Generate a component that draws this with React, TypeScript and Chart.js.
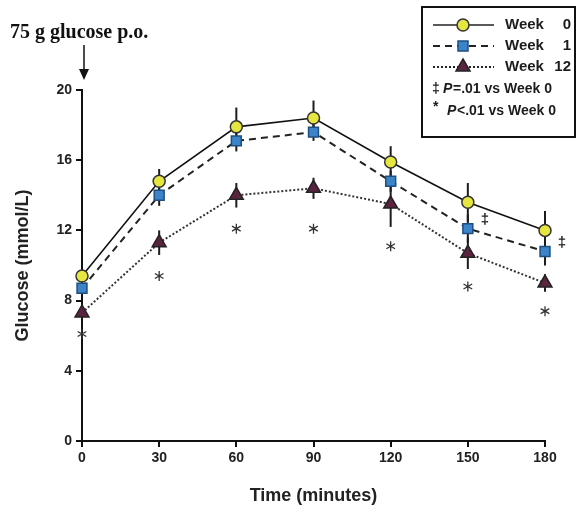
import { useEffect, useRef } from 'react';
import { Chart, registerables } from 'chart.js';

Chart.register(...registerables);

// ---- data ----
const timePoints = [0, 30, 60, 90, 120, 150, 180];
const week0 = [9.4, 14.8, 17.9, 18.4, 15.9, 13.6, 12.0];
const week0Err = [0.3, 0.7, 1.1, 1.0, 0.9, 1.1, 1.1];
const week1 = [8.7, 14.0, 17.1, 17.6, 14.8, 12.1, 10.8];
const week1Err = [0.3, 0.6, 0.6, 0.5, 0.6, 0.8, 0.8];
const week12 = [7.3, 11.3, 14.0, 14.4, 13.5, 10.7, 9.0];
const week12Err = [0.3, 0.7, 0.7, 0.6, 1.3, 0.9, 0.5];
// significance markers (y position in mmol/L)
const starY = [6.1, 9.4, 12.1, 12.1, 11.1, 8.8, 7.4];
const daggerY: (number | null)[] = [null, null, null, null, null, 12.6, 11.3];
const xTicks = [0, 30, 60, 90, 120, 150, 180];
const yTicks = [0, 4, 8, 12, 16, 20];
const seriesNames = ['Week  0', 'Week  1', 'Week 12'];

const SANS = "'Liberation Sans', Arial, sans-serif";
const SERIF = "'Liberation Serif', 'Times New Roman', serif";
const INK = '#1c1c1c';

const YELLOW = '#e6e640';
const BLUE = '#3b84c9';
const MAROON = '#5a2440';

function drawMarker(ctx: CanvasRenderingContext2D, kind: string, x: number, y: number) {
  ctx.save();
  ctx.lineWidth = 1.5;
  ctx.setLineDash([]);
  ctx.beginPath();
  if (kind === 'circle') {
    ctx.fillStyle = YELLOW;
    ctx.strokeStyle = '#333';
    ctx.arc(x, y, 6, 0, Math.PI * 2);
  } else if (kind === 'rect') {
    ctx.fillStyle = BLUE;
    ctx.strokeStyle = '#1f4f80';
    ctx.rect(x - 5, y - 5, 10, 10);
  } else {
    ctx.fillStyle = MAROON;
    ctx.strokeStyle = '#222';
    ctx.moveTo(x, y - 8);
    ctx.lineTo(x + 7, y + 4);
    ctx.lineTo(x - 7, y + 4);
    ctx.closePath();
  }
  ctx.fill();
  ctx.stroke();
  ctx.restore();
}

function drawStar(ctx: CanvasRenderingContext2D, x: number, y: number, r: number) {
  ctx.save();
  ctx.strokeStyle = '#333';
  ctx.lineWidth = 1.3;
  ctx.beginPath();
  for (let i = 0; i < 3; i++) {
    const a = Math.PI / 2 + (i * Math.PI) / 3;
    ctx.moveTo(x + Math.cos(a) * r, y + Math.sin(a) * r);
    ctx.lineTo(x - Math.cos(a) * r, y - Math.sin(a) * r);
  }
  ctx.stroke();
  ctx.restore();
}

const errorBarPlugin = {
  id: 'errorBars',
  beforeDatasetsDraw(chart: any) {
    const ctx = chart.ctx as CanvasRenderingContext2D;
    const xs = chart.scales.x;
    const ys = chart.scales.y;
    const sets = [
      [week0, week0Err],
      [week1, week1Err],
      [week12, week12Err],
    ];
    ctx.save();
    ctx.strokeStyle = INK;
    ctx.lineWidth = 2;
    sets.forEach(([vals, errs]) => {
      vals.forEach((v, j) => {
        const x = xs.getPixelForValue(timePoints[j]);
        ctx.beginPath();
        ctx.moveTo(x, ys.getPixelForValue(v + errs[j]));
        ctx.lineTo(x, ys.getPixelForValue(v - errs[j]));
        ctx.stroke();
      });
    });
    ctx.restore();
  },
};

const annotationPlugin = {
  id: 'annotations',
  afterDraw(chart: any) {
    const ctx = chart.ctx as CanvasRenderingContext2D;
    const xs = chart.scales.x;
    const ys = chart.scales.y;

    // significance stars
    starY.forEach((v, j) => {
      drawStar(ctx, xs.getPixelForValue(timePoints[j]), ys.getPixelForValue(v), 5);
    });
    // double daggers
    ctx.save();
    ctx.fillStyle = INK;
    ctx.font = `bold 15px ${SANS}`;
    ctx.textAlign = 'center';
    ctx.textBaseline = 'middle';
    daggerY.forEach((v, j) => {
      if (v === null) return;
      ctx.fillText('\u2021', xs.getPixelForValue(timePoints[j]) + 17, ys.getPixelForValue(v));
    });
    ctx.restore();

    // top-left note with arrow
    ctx.save();
    ctx.fillStyle = '#111';
    ctx.font = `bold 20px ${SERIF}`;
    ctx.textBaseline = 'alphabetic';
    ctx.fillText('75 g glucose p.o.', 10, 38);
    const ax = xs.getPixelForValue(0) + 2;
    ctx.strokeStyle = '#111';
    ctx.lineWidth = 1.5;
    ctx.beginPath();
    ctx.moveTo(ax, 45);
    ctx.lineTo(ax, 72);
    ctx.stroke();
    ctx.beginPath();
    ctx.moveTo(ax - 5, 69);
    ctx.lineTo(ax + 5, 69);
    ctx.lineTo(ax, 80);
    ctx.closePath();
    ctx.fill();
    ctx.restore();

    // legend box
    ctx.save();
    ctx.strokeStyle = '#111';
    ctx.lineWidth = 2;
    ctx.strokeRect(422, 7, 153, 130);
    const rows = [25, 46, 67, 89, 111];
    const styles: [number[], string][] = [
      [[], 'circle'],
      [[7, 5], 'rect'],
      [[2, 2], 'triangle'],
    ];
    styles.forEach(([dash, kind], i) => {
      const y = rows[i];
      ctx.save();
      ctx.strokeStyle = '#222';
      ctx.lineWidth = i === 0 ? 1.5 : 2;
      ctx.setLineDash(dash);
      ctx.beginPath();
      ctx.moveTo(433, y);
      ctx.lineTo(494, y);
      ctx.stroke();
      ctx.restore();
      drawMarker(ctx, kind, 463, y);
      ctx.fillStyle = INK;
      ctx.font = `bold 15px ${SANS}`;
      ctx.textBaseline = 'middle';
      ctx.textAlign = 'left';
      ctx.fillText('Week', 505, y);
      ctx.textAlign = 'right';
      ctx.fillText(seriesNames[i].replace('Week', '').trim(), 571, y);
    });
    ctx.textAlign = 'left';
    ctx.textBaseline = 'middle';
    ctx.fillStyle = INK;
    ctx.font = `bold 14px ${SANS}`;
    ctx.fillText('\u2021', 432, rows[3]);
    ctx.font = `italic bold 14px ${SANS}`;
    ctx.fillText('P', 443, rows[3]);
    ctx.font = `bold 14px ${SANS}`;
    ctx.fillText('=.01 vs Week 0', 453, rows[3]);
    ctx.font = `bold 14px ${SANS}`;
    ctx.fillText('*', 433, rows[4] - 4);
    ctx.font = `italic bold 14px ${SANS}`;
    ctx.fillText('P', 447, rows[4]);
    ctx.font = `bold 14px ${SANS}`;
    ctx.fillText('<.01 vs Week 0', 457, rows[4]);
    ctx.restore();
  },
};

export default function App() {
  const ref = useRef<HTMLCanvasElement>(null);
  useEffect(() => {
    if (!ref.current) return;
    const mk = (vals: number[]) => vals.map((v, i) => ({ x: timePoints[i], y: v }));
    const chart = new Chart(ref.current, {
      type: 'line',
      data: {
        datasets: [
          {
            label: seriesNames[0],
            data: mk(week0),
            borderColor: '#111',
            borderWidth: 1.6,
            pointStyle: 'circle',
            pointRadius: 6,
            pointBackgroundColor: YELLOW,
            pointBorderColor: '#333',
            pointBorderWidth: 1.5,
            tension: 0,
            clip: false,
          },
          {
            label: seriesNames[1],
            data: mk(week1),
            borderColor: '#222',
            borderWidth: 2,
            borderDash: [7, 5],
            pointStyle: 'rect',
            pointRadius: 7,
            pointBackgroundColor: BLUE,
            pointBorderColor: '#1f4f80',
            pointBorderWidth: 1.5,
            tension: 0,
            clip: false,
          },
          {
            label: seriesNames[2],
            data: mk(week12),
            borderColor: '#333',
            borderWidth: 2,
            borderDash: [2, 2],
            pointStyle: 'triangle',
            pointRadius: 8,
            pointBackgroundColor: MAROON,
            pointBorderColor: '#222',
            pointBorderWidth: 1.5,
            tension: 0,
            clip: false,
          },
        ],
      },
      options: {
        animation: false,
        responsive: false,
        layout: { padding: { top: 90, right: 35, left: 0, bottom: 0 } },
        plugins: { legend: { display: false }, tooltip: { enabled: false } },
        scales: {
          x: {
            type: 'linear',
            min: 0,
            max: 180,
            afterBuildTicks: (s: any) => {
              s.ticks = xTicks.map((v) => ({ value: v }));
            },
            afterFit: (s: any) => {
              s.height = 74;
            },
            grid: { drawOnChartArea: false, drawTicks: true, tickLength: 6, color: '#111', lineWidth: 2 },
            border: { display: true, color: '#111', width: 2 },
            ticks: { color: '#222', font: { family: SANS, size: 14, weight: 'bold' }, padding: 3, maxRotation: 0 },
            title: {
              display: true,
              text: 'Time (minutes)',
              color: '#222',
              font: { family: SANS, size: 18, weight: 'bold' },
              padding: { top: 0, bottom: 8 },
            },
          },
          y: {
            min: 0,
            max: 20,
            afterBuildTicks: (s: any) => {
              s.ticks = yTicks.map((v) => ({ value: v }));
            },
            afterFit: (s: any) => {
              s.width = 82;
            },
            grid: { drawOnChartArea: false, drawTicks: true, tickLength: 6, color: '#111', lineWidth: 2 },
            border: { display: true, color: '#111', width: 2 },
            ticks: { color: '#222', font: { family: SANS, size: 14, weight: 'bold' }, padding: 4 },
            title: {
              display: true,
              text: 'Glucose (mmol/L)',
              color: '#222',
              font: { family: SANS, size: 18, weight: 'bold' },
              padding: { top: 12, bottom: 0 },
            },
          },
        },
      },
      plugins: [errorBarPlugin, annotationPlugin],
    } as any);
    return () => chart.destroy();
  }, []);
  return (
    <div style={{ position: 'fixed', left: 0, top: 0, width: 580, height: 515, background: '#fff' }}>
      <canvas ref={ref} width={580} height={515} style={{ display: 'block' }} />
    </div>
  );
}
